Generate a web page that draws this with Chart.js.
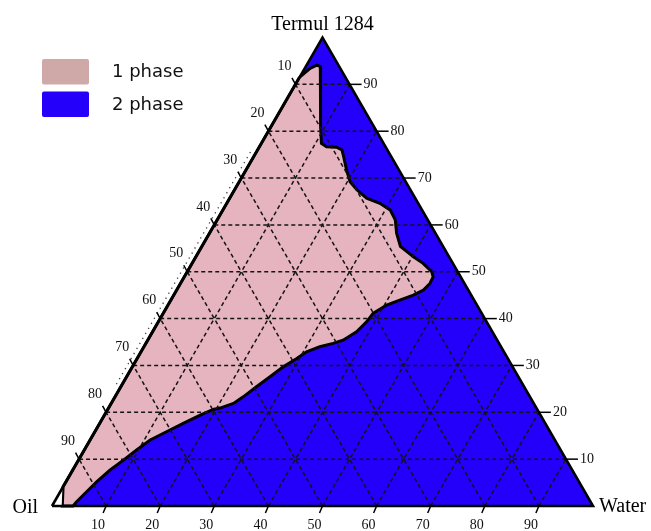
<!DOCTYPE html>
<html>
<head>
<meta charset="utf-8">
<script src="https://cdn.jsdelivr.net/npm/chart.js@4.4.0/dist/chart.umd.min.js"></script>
<style>
  body { margin: 0; background: #fff; }
  .chart-box { width: 651px; height: 531px; position: relative; }
</style>
</head>
<body>
<div class="chart-box"><canvas id="ternaryChart"></canvas></div>
<script>
// phase boundary, from the top (left edge) down to the base, in %
const boundaryTermul = [91.5, 93.4, 94.1, 93.8, 92.4, 81.0, 77.4, 76.7, 76.6, 76.0,
  74.6, 71.7, 69.2, 67.5, 65.7, 64.6, 63.2, 61.1, 58.2, 55.4,
  53.2, 51.8, 50.0, 48.9, 47.5, 46.1, 45.0, 44.0, 42.9, 41.1,
  39.3, 37.2, 35.4, 34.7, 34.0, 32.9, 31.5, 29.7, 27.6, 25.5,
  23.3, 21.9, 20.9, 20.6, 19.4, 17.7, 15.9, 14.1, 12.0, 9.8,
  7.7, 5.2, 3.1, 0.9, 0];
const boundaryWater = [0, 1.0, 1.9, 2.7, 3.5, 9.1, 11.1, 12.4, 14.3, 15.6,
  16.6, 18.6, 20.5, 22.6, 25.3, 28.3, 30.9, 32.9, 34.6, 36.7,
  40.2, 42.7, 45.2, 46.0, 46.1, 45.6, 44.3, 42.4, 40.4, 38.8,
  38.5, 37.7, 36.1, 34.6, 32.5, 30.6, 29.5, 27.9, 26.5, 25.1,
  23.7, 22.6, 20.6, 19.5, 17.7, 15.5, 13.3, 11.1, 9.7, 8.3,
  6.9, 5.7, 4.9, 4.1, 3.9];
// small empty corner at the Oil vertex
const cornerTermul = [0, 4.1];
const cornerWater = [1.9, 0];
// dotted trace just outside the Oil-Termul edge
const edgeDotTermul = [26, 76];
const edgeDotWater = [-1.1, -1.1];

const tickValues = [10, 20, 30, 40, 50, 60, 70, 80, 90];
const vertexNames = ['Oil', 'Water', 'Termul 1284'];
const phaseLabels = ['1 phase', '2 phase'];
const phaseColors = ['#e6b4be', '#2400fb'];
const legendColors = ['#cfa8a8', '#2400fb'];

const H = Math.sqrt(3) / 2;
// ternary (Termul %, Water %) -> cartesian
function toXY(t, w) {
  return { x: (w + t / 2) / 100, y: t / 100 * H };
}

const datasets = [];

// 2 phase: whole triangle
datasets.push({
  data: [toXY(0, 0), toXY(0, 100), toXY(100, 0), toXY(0, 0)],
  backgroundColor: phaseColors[1],
  borderWidth: 0,
  fill: 'shape',
  order: 10
});

// 1 phase region
const onePhase = boundaryTermul.map((t, i) => toXY(t, boundaryWater[i]));
cornerTermul.forEach((t, i) => onePhase.push(toXY(t, cornerWater[i])));
onePhase.push(toXY(boundaryTermul[0], boundaryWater[0]));
datasets.push({
  data: onePhase,
  backgroundColor: phaseColors[0],
  borderColor: '#000',
  borderWidth: 3,
  fill: 'shape',
  order: 8
});

// white sliver at the Oil corner
const sliver = [toXY(0, 0)];
cornerTermul.forEach((t, i) => sliver.push(toXY(t, cornerWater[i])));
sliver.push(toXY(0, 0));
datasets.push({
  data: sliver,
  backgroundColor: '#fff',
  borderColor: '#000',
  borderWidth: 1.2,
  fill: 'shape',
  order: 7
});

// dashed grid
tickValues.forEach(v => {
  const lines = [
    [toXY(v, 0), toXY(v, 100 - v)],        // constant Termul
    [toXY(0, v), toXY(100 - v, v)],        // constant Water
    [toXY(0, 100 - v), toXY(100 - v, 0)]   // constant Oil
  ];
  lines.forEach(seg => datasets.push({
    data: seg,
    borderColor: '#141414',
    borderWidth: 1.5,
    borderDash: [4, 3],
    fill: false,
    order: 5
  }));
});

// dotted trace outside the left edge
datasets.push({
  data: edgeDotTermul.map((t, i) => toXY(t, edgeDotWater[i])),
  borderColor: '#444',
  borderWidth: 1.3,
  borderDash: [1.3, 4.5],
  fill: false,
  order: 3
});

// triangle outline
datasets.push({
  data: [toXY(0, 0), toXY(0, 100), toXY(100, 0), toXY(0, 0)],
  borderColor: '#000',
  borderWidth: 2.6,
  fill: false,
  order: 1
});

datasets.forEach(d => {
  d.showLine = true;
  d.pointRadius = 0;
  d.tension = 0;
  d.clip = false;
});

const decorations = {
  id: 'decorations',
  afterDraw(chart) {
    const ctx = chart.ctx;
    const sx = chart.scales.x, sy = chart.scales.y;
    const px = p => [sx.getPixelForValue(p.x), sy.getPixelForValue(p.y)];
    const seg = (x1, y1, x2, y2) => {
      ctx.beginPath(); ctx.moveTo(x1, y1); ctx.lineTo(x2, y2); ctx.stroke();
    };

    ctx.save();
    ctx.strokeStyle = '#000';
    ctx.lineWidth = 1.5;
    ctx.fillStyle = '#111';
    ctx.font = '14px "Liberation Serif"';
    ctx.textBaseline = 'middle';
    tickValues.forEach(v => {
      // Termul, right edge
      let [x, y] = px(toXY(v, 100 - v));
      seg(x, y, x + 12, y);
      ctx.textAlign = 'left';
      ctx.fillText(String(v), x + 14, y);
      // Oil, left edge
      [x, y] = px(toXY(100 - v, 0));
      seg(x, y, x - 3.5, y - 6.5);
      ctx.textAlign = 'center';
      ctx.fillText(String(v), x - 11, y - 18);
      // Water, base
      [x, y] = px(toXY(0, v));
      seg(x, y, x - 3, y + 7);
      ctx.fillText(String(v), x - 8, y + 19);
    });

    // vertex names
    ctx.fillStyle = '#000';
    ctx.font = '20px "Liberation Serif"';
    ctx.textBaseline = 'alphabetic';
    let [x, y] = px(toXY(0, 0));
    ctx.textAlign = 'right';
    ctx.fillText(vertexNames[0], x - 14, y + 7);
    [x, y] = px(toXY(0, 100));
    ctx.textAlign = 'left';
    ctx.fillText(vertexNames[1], x + 6, y + 6);
    [x, y] = px(toXY(100, 0));
    ctx.textAlign = 'center';
    ctx.fillText(vertexNames[2], x, y - 8);

    // legend
    ctx.font = '18px "DejaVu Sans"';
    ctx.textAlign = 'left';
    ctx.textBaseline = 'middle';
    phaseLabels.forEach((lab, i) => {
      const top = 59 + i * 32.5;
      ctx.fillStyle = legendColors[i];
      ctx.beginPath();
      ctx.roundRect(42, top, 47, 25.5, 2);
      ctx.fill();
      ctx.fillStyle = '#111';
      ctx.fillText(lab, 112, top + 13.5);
    });
    ctx.restore();
  }
};

new Chart(document.getElementById('ternaryChart'), {
  type: 'scatter',
  data: { datasets: datasets },
  options: {
    responsive: true,
    maintainAspectRatio: false,
    animation: false,
    events: [],
    layout: { padding: { left: 52, right: 58, top: 37.5, bottom: 25 } },
    scales: {
      x: { type: 'linear', min: 0, max: 1, display: false },
      y: { type: 'linear', min: 0, max: H, display: false }
    },
    plugins: {
      legend: { display: false },
      tooltip: { enabled: false }
    }
  },
  plugins: [decorations]
});
</script>
</body>
</html>
